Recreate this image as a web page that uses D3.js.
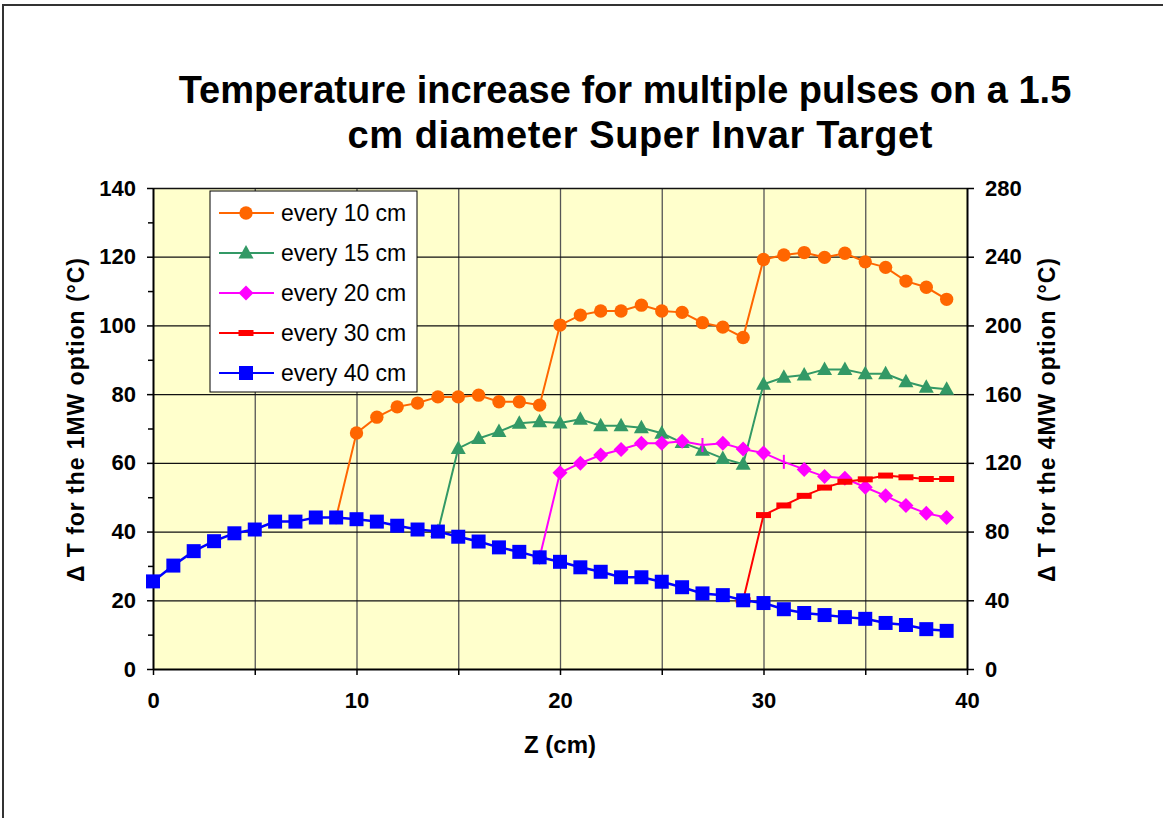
<!DOCTYPE html>
<html>
<head>
<meta charset="utf-8">
<script src="https://cdn.jsdelivr.net/npm/d3@7"></script>
<style>
  body { margin: 0; background: #fff; }
  svg { display: block; font-family: "Liberation Sans", Arial, sans-serif; }
</style>
</head>
<body>
<div id="chart"></div>
<script>
// data (Z in cm, delta T in degC for the 1MW option)
var z40 = [0, 1, 2, 3, 4, 5, 6, 7, 8, 9, 10, 11, 12, 13, 14, 15, 16, 17, 18, 19,
           20, 21, 22, 23, 24, 25, 26, 27, 28, 29, 30, 31, 32, 33, 34, 35, 36, 37, 38, 39];
var every40 = [25.5, 30.1, 34.3, 37.2, 39.5, 40.6, 42.9, 42.9, 44.1, 44.1, 43.6, 42.9, 41.7, 40.6, 40.0, 38.5, 37.1, 35.4, 34.1, 32.5,
               31.2, 29.6, 28.3, 26.7, 26.7, 25.4, 23.8, 22.0, 21.5, 20.0, 19.2, 17.4, 16.3, 15.7, 15.1, 14.6, 13.4, 12.8, 11.6, 11.1];

var z10 = [9, 10, 11, 12, 13, 14, 15, 16, 17, 18, 19, 20, 21, 22, 23, 24, 25, 26, 27, 28, 29, 30, 31, 32, 33, 34, 35, 36, 37, 38, 39];
var every10 = [44.1, 68.7, 73.3, 76.3, 77.4, 79.2, 79.2, 79.7, 77.8, 77.8, 76.8, 100.1, 103.0, 104.2, 104.2, 105.9, 104.2, 103.8, 100.8, 99.5, 96.5,
               119.2, 120.5, 121.2, 119.8, 121.0, 118.5, 116.9, 112.9, 111.1, 107.6];

var z15 = [14, 15, 16, 17, 18, 19, 20, 21, 22, 23, 24, 25, 26, 27, 28, 29, 30, 31, 32, 33, 34, 35, 36, 37, 38, 39];
var every15 = [40.0, 64.2, 67.1, 69.1, 71.5, 72.0, 71.6, 72.7, 70.8, 70.8, 70.2, 68.6, 65.9, 63.7, 61.3, 59.6,
               82.9, 84.9, 85.6, 87.2, 87.2, 85.9, 85.9, 83.6, 82.0, 81.4];

var z20 = [19, 20, 21, 22, 23, 24, 25, 26, 27, 28, 29, 30, 31, 32, 33, 34, 35, 36, 37, 38, 39];
var every20 = [32.5, 57.1, 59.9, 62.3, 63.9, 65.7, 65.7, 66.3, 65.2, 65.7, 64.0, 62.9, 60.3, 58.1, 56.0, 55.5, 52.9, 50.4, 47.6, 45.3, 44.1];
// points of the 20 cm series that show only a small bar instead of a diamond
var every20BarZ = [27, 31];

var z30 = [29, 30, 31, 32, 33, 34, 35, 36, 37, 38, 39];
var every30 = [20.0, 44.8, 47.6, 50.4, 52.8, 54.5, 55.2, 56.3, 55.8, 55.3, 55.3];

var seriesNames = ["every 10 cm", "every 15 cm", "every 20 cm", "every 30 cm", "every 40 cm"];
var xTicks = [0, 10, 20, 30, 40];
var yTicksLeft = [0, 20, 40, 60, 80, 100, 120, 140];
var yTicksRight = [0, 40, 80, 120, 160, 200, 240, 280];

var titleLines = ["Temperature increase for multiple pulses on a 1.5", "cm diameter Super Invar Target"];

// ---- layout
var W = 1163, H = 818;
var plot = { left: 153, right: 967, top: 188, bottom: 669 };

var svg = d3.select("#chart").append("svg")
    .attr("width", W)
    .attr("height", H);

svg.append("rect").attr("width", W).attr("height", H).attr("fill", "white");

// outer chart frame (runs off the window at right and bottom)
svg.append("path")
    .attr("d", "M3," + H + "V5H" + W)
    .attr("fill", "none")
    .attr("stroke", "#333")
    .attr("stroke-width", 2);

var x = d3.scaleLinear().domain([0, 40]).range([plot.left, plot.right]);
var y = d3.scaleLinear().domain([0, 140]).range([plot.bottom, plot.top]);
var y2 = d3.scaleLinear().domain([0, 280]).range([plot.bottom, plot.top]);

// plot background
svg.append("rect")
    .attr("x", plot.left).attr("y", plot.top)
    .attr("width", plot.right - plot.left).attr("height", plot.bottom - plot.top)
    .attr("fill", "#FFFFCC");

// vertical grid every 5 cm
svg.append("g")
    .attr("transform", "translate(0," + plot.bottom + ")")
    .call(d3.axisBottom(x).tickValues(d3.range(5, 40, 5)).tickSize(-(plot.bottom - plot.top)).tickFormat(""))
    .call(function(g) { g.select(".domain").remove(); })
    .selectAll("line")
    .attr("stroke", "#555")
    .attr("stroke-width", 1.3);

// horizontal grid
svg.append("g")
    .attr("transform", "translate(" + plot.left + ",0)")
    .call(d3.axisLeft(y).tickValues(yTicksLeft.slice(1)).tickSize(-(plot.right - plot.left)).tickFormat(""))
    .call(function(g) { g.select(".domain").remove(); })
    .selectAll("line")
    .attr("stroke", "#111")
    .attr("stroke-width", 1.3);

// ---- axes
function styleAxis(g) {
    g.select(".domain").attr("stroke", "#000").attr("stroke-width", 2);
    g.selectAll(".tick line").attr("stroke", "#000").attr("stroke-width", 1.5);
    g.selectAll("text")
        .attr("fill", "#000")
        .style("font-size", "22px")
        .style("font-weight", "bold");
}

// minor ticks on left axis
svg.append("g")
    .attr("transform", "translate(" + plot.left + ",0)")
    .call(d3.axisLeft(y).tickValues(d3.range(10, 140, 20)).tickSize(5).tickFormat(""))
    .call(function(g) { g.select(".domain").remove(); })
    .selectAll("line").attr("stroke", "#000").attr("stroke-width", 1.5);

svg.append("g")
    .attr("transform", "translate(" + plot.left + ",0)")
    .call(d3.axisLeft(y).tickValues(yTicksLeft).tickSize(6).tickSizeOuter(0).tickPadding(11))
    .call(styleAxis);

svg.append("g")
    .attr("transform", "translate(" + plot.right + ",0)")
    .call(d3.axisRight(y2).tickValues(yTicksRight).tickSize(7).tickSizeOuter(0).tickPadding(11))
    .call(styleAxis);

// x axis: ticks every 5, labels every 10
svg.append("g")
    .attr("transform", "translate(0," + plot.bottom + ")")
    .call(d3.axisBottom(x).tickValues(d3.range(0, 45, 5)).tickSize(6).tickSizeOuter(0).tickPadding(17)
        .tickFormat(function(d) { return xTicks.indexOf(d) >= 0 ? d : ""; }))
    .call(styleAxis);

// ---- axis titles
svg.append("text")
    .attr("x", 560).attr("y", 753)
    .attr("text-anchor", "middle")
    .style("font-size", "24px").style("font-weight", "bold")
    .text("Z (cm)");

svg.append("text")
    .attr("transform", "translate(84,420) rotate(-90)")
    .attr("text-anchor", "middle")
    .attr("textLength", 324)
    .attr("lengthAdjust", "spacing")
    .style("font-size", "23px").style("font-weight", "bold")
    .text("\u0394 T for the 1MW option (\u00B0C)");

svg.append("text")
    .attr("transform", "translate(1055,420) rotate(-90)")
    .attr("text-anchor", "middle")
    .attr("textLength", 324)
    .attr("lengthAdjust", "spacing")
    .style("font-size", "23px").style("font-weight", "bold")
    .text("\u0394 T for the 4MW option (\u00B0C)");

// ---- title
svg.append("text")
    .attr("x", 625).attr("y", 103)
    .attr("text-anchor", "middle")
    .style("font-size", "38px").style("font-weight", "bold")
    .text(titleLines[0]);
svg.append("text")
    .attr("x", 640).attr("y", 148)
    .attr("text-anchor", "middle")
    .style("font-size", "38px").style("font-weight", "bold")
    .attr("textLength", 585)
    .attr("lengthAdjust", "spacing")
    .text(titleLines[1]);

// ---- markers
function markerPath(kind) {
    if (kind === "circle") return d3.symbol(d3.symbolCircle, 140)();
    if (kind === "triangle") return "M0,-8L7.5,5.5L-7.5,5.5Z";
    if (kind === "diamond") return "M0,-7.5L7.5,0L0,7.5L-7.5,0Z";
    if (kind === "dash") return "M-7.5,-3H7.5V3H-7.5Z";
    if (kind === "bar") return "M-1,-7H1V7H-1Z";
    return "M-7,-7H7V7H-7Z";
}

var series = [
    { name: seriesNames[0], z: z10, v: every10, color: "#FF6600", marker: "circle", width: 2 },
    { name: seriesNames[1], z: z15, v: every15, color: "#339966", marker: "triangle", width: 2 },
    { name: seriesNames[2], z: z20, v: every20, color: "#FF00FF", marker: "diamond", width: 2, bars: every20BarZ },
    { name: seriesNames[3], z: z30, v: every30, color: "#FF0000", marker: "dash", width: 2 },
    { name: seriesNames[4], z: z40, v: every40, color: "#0000FF", marker: "square", width: 2.5 }
];

var line = d3.line()
    .x(function(d) { return x(d[0]); })
    .y(function(d) { return y(d[1]); });

series.forEach(function(s) {
    var pts = s.z.map(function(z, i) { return [z, s.v[i]]; });
    var g = svg.append("g");
    g.append("path")
        .datum(pts)
        .attr("d", line)
        .attr("fill", "none")
        .attr("stroke", s.color)
        .attr("stroke-width", s.width);
    g.selectAll("path.mk")
        .data(pts)
        .enter()
        .append("path")
        .attr("class", "mk")
        .attr("transform", function(d) { return "translate(" + x(d[0]) + "," + y(d[1]) + ")"; })
        .attr("d", function(d) {
            if (s.bars && s.bars.indexOf(d[0]) >= 0) return markerPath("bar");
            return markerPath(s.marker);
        })
        .attr("fill", s.color);
});

// ---- legend
var legend = svg.append("g").attr("transform", "translate(210,191)");
legend.append("rect")
    .attr("width", 207).attr("height", 201)
    .attr("fill", "white")
    .attr("stroke", "#000")
    .attr("stroke-width", 1);

series.forEach(function(s, i) {
    var ly = 22 + i * 40;
    legend.append("line")
        .attr("x1", 9).attr("x2", 64)
        .attr("y1", ly).attr("y2", ly)
        .attr("stroke", s.color).attr("stroke-width", 2);
    legend.append("path")
        .attr("transform", "translate(36," + ly + ")")
        .attr("d", markerPath(s.marker))
        .attr("fill", s.color);
    legend.append("text")
        .attr("x", 71).attr("y", ly + 8)
        .style("font-size", "23px")
        .text(s.name);
});
</script>
</body>
</html>
